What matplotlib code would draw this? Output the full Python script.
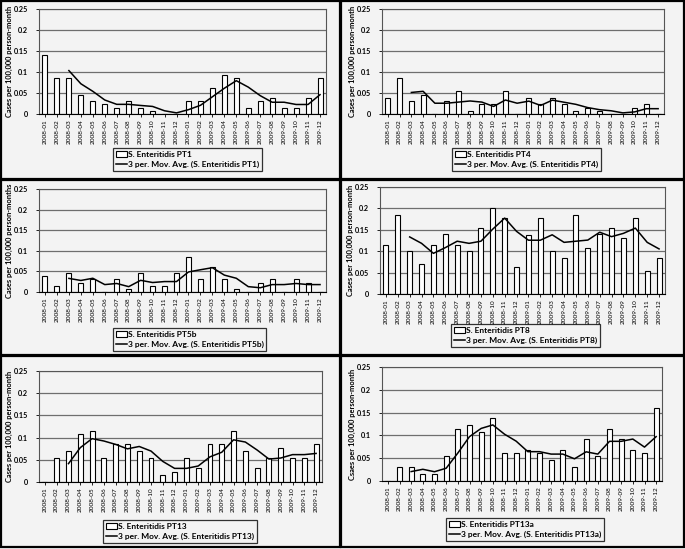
import numpy as np
import pandas as pd
import matplotlib
matplotlib.use('Agg')
import matplotlib.pyplot as plt
from matplotlib.patches import Rectangle
from matplotlib.lines import Line2D

plt.rcParams['font.family'] = ['Lato', 'DejaVu Sans']

W, H = 685, 549

# category labels (months)
months = ['2008-01', '2008-02', '2008-03', '2008-04', '2008-05', '2008-06',
          '2008-07', '2008-08', '2008-09', '2008-10', '2008-11', '2008-12',
          '2009-01', '2009-02', '2009-03', '2009-04', '2009-05', '2009-06',
          '2009-07', '2009-08', '2009-09', '2009-10', '2009-11', '2009-12']

# cases per 100,000 person-month
pt1 = [0.140, 0.085, 0.085, 0.046, 0.031, 0.023, 0.015, 0.031, 0.015, 0.008, 0.0, 0.0,
       0.031, 0.031, 0.061, 0.092, 0.085, 0.015, 0.031, 0.038, 0.015, 0.015, 0.038, 0.085]
pt4 = [0.038, 0.085, 0.031, 0.046, 0.0, 0.031, 0.054, 0.008, 0.023, 0.023, 0.054, 0.0,
       0.038, 0.023, 0.038, 0.023, 0.008, 0.015, 0.008, 0.0, 0.0, 0.015, 0.023, 0.0]
pt5b = [0.038, 0.015, 0.046, 0.023, 0.031, 0.0, 0.031, 0.008, 0.046, 0.015, 0.015, 0.046,
        0.085, 0.031, 0.061, 0.031, 0.008, 0.0, 0.023, 0.031, 0.0, 0.031, 0.023, 0.0]
pt8 = [0.115, 0.185, 0.100, 0.070, 0.115, 0.140, 0.115, 0.100, 0.155, 0.200, 0.177, 0.062,
       0.138, 0.177, 0.100, 0.085, 0.185, 0.108, 0.140, 0.154, 0.131, 0.177, 0.054, 0.085]
pt13 = [0.0, 0.054, 0.070, 0.108, 0.115, 0.054, 0.085, 0.085, 0.070, 0.054, 0.015, 0.023,
        0.054, 0.031, 0.085, 0.085, 0.115, 0.070, 0.031, 0.054, 0.077, 0.054, 0.054, 0.085]
pt13a = [0.0, 0.031, 0.031, 0.015, 0.015, 0.054, 0.115, 0.123, 0.108, 0.138, 0.062, 0.062,
         0.069, 0.062, 0.046, 0.069, 0.031, 0.092, 0.054, 0.115, 0.092, 0.069, 0.062, 0.161]

yticks = [0, 0.05, 0.1, 0.15, 0.2, 0.25]
ytick_labels = ['0', '0.05', '0.1', '0.15', '0.2', '0.25']

bg = '#f3f3f3'
fig = plt.figure(figsize=(W / 100, H / 100), dpi=100, facecolor=bg)


def draw_panel(plot_px, legend_px, vals, name, ylabel):
    l, t, r, b = plot_px
    ax = fig.add_axes([l / W, 1 - b / H, (r - l) / W, (b - t) / H])
    ax.set_facecolor(bg)
    x = np.arange(len(months))
    ax.bar(x, vals, width=0.42, color='white', edgecolor='black', linewidth=0.8, zorder=2)
    # 3-period moving average of the bars
    ma = pd.Series(vals).rolling(3).mean()
    ax.plot(x, ma, color='black', lw=1.1, zorder=3)

    ax.set_xlim(-0.5, len(months) - 0.5)
    ax.set_ylim(0, 0.25)
    ax.set_yticks(yticks)
    ax.set_yticklabels(ytick_labels, fontsize=5.2, fontweight='bold')
    ax.set_xticks(x)
    ax.set_xticklabels(months, rotation=90, fontsize=4.6)
    ax.tick_params(axis='y', length=2, width=0.6, pad=6)
    ax.tick_params(axis='x', length=2, width=0.6, pad=2)
    ax.yaxis.grid(True, color='#6e6e6e', lw=0.9)
    ax.set_axisbelow(True)
    for s in ax.spines.values():
        s.set_color('#555555')
        s.set_linewidth(0.8)
    ax.spines['bottom'].set_color('black')

    ax.set_ylabel(ylabel, fontsize=5.4, fontweight='bold')
    ax.yaxis.set_label_coords(-26 / (r - l), 0.5)

    ll, lt, lr, lb = legend_px
    handles = [Rectangle((0, 0), 1, 1, facecolor='white', edgecolor='black', lw=0.8),
               Line2D([0], [0], color='black', lw=1.1)]
    labels = [name, '3 per. Mov. Avg. (' + name + ')']
    leg = fig.legend(handles, labels, loc='upper left',
                     bbox_to_anchor=(ll / W, 1 - lt / H),
                     prop={'size': 6, 'weight': 'bold'},
                     frameon=True, fancybox=False, handlelength=1.3,
                     handleheight=0.6, handletextpad=0.1, borderpad=0.35,
                     labelspacing=0.35, borderaxespad=0)
    fr = leg.get_frame()
    fr.set_edgecolor('black')
    fr.set_linewidth(0.9)
    fr.set_facecolor(bg)
    return ax


draw_panel((39, 9, 326, 114), (113, 148, 263, 170), pt1,
           'S. Enteritidis PT1', 'Cases per 100,000 person-month')
draw_panel((382, 9, 664, 114), (452, 148, 601, 170), pt4,
           'S. Enteritidis PT4', 'Cases per 100,000 person-month')
draw_panel((39, 189, 326, 292), (113, 328, 265, 351), pt5b,
           'S. Enteritidis PT5b', 'Cases per 100,000 person-months')
draw_panel((380, 187, 665, 294), (451, 324, 609, 352), pt8,
           'S. Enteritidis PT8', 'Cases per 100,000 person-month')
draw_panel((39, 371, 322, 482), (103, 520, 260, 544), pt13,
           'S. Enteritidis PT13', 'Cases per 100,000 person-month')
draw_panel((382, 367, 662, 481), (446, 518, 609, 544), pt13a,
           'S. Enteritidis PT13a', 'Csaes per 100,000 person-month')

# panel frames
frames = [(1, 1, 340, 179), (341, 1, 684, 179),
          (1, 180, 340, 355), (341, 180, 684, 355),
          (1, 356, 340, 547), (341, 356, 684, 547)]
for (l, t, r, b) in frames:
    fig.add_artist(Rectangle((l / W, 1 - b / H), (r - l) / W, (b - t) / H,
                             transform=fig.transFigure, fill=False,
                             edgecolor='black', lw=1.6))

fig.savefig('out.png', dpi=100, facecolor=bg)
